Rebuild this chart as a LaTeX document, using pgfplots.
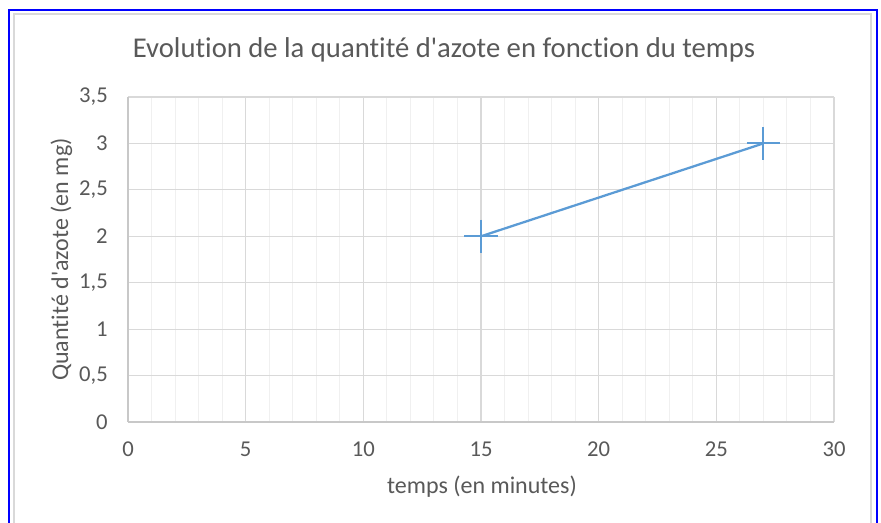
\documentclass[border=0pt]{standalone}
\usepackage{pgfplots}
\pgfplotsset{compat=1.18}
\usepackage{fontspec}
\setmainfont{Carlito}[Ligatures={NoCommon}]
\definecolor{txt}{HTML}{595959}
\definecolor{majorg}{HTML}{D9D9D9}
\definecolor{minorg}{HTML}{F0F0F0}
\definecolor{ser}{HTML}{5B9BD5}
\definecolor{axl}{HTML}{C8C8C8}
\begin{document}
\begin{tikzpicture}
\useasboundingbox (0,0) rectangle (660.75pt,392.25pt);
\fill[white] (0,0) rectangle (660.75pt,392.25pt);
\begin{scope}
\clip (0,0) rectangle (660.75pt,392.25pt);
\draw[blue, line width=1.5pt] (6.6pt,-10pt) rectangle (657.4pt,385.1pt);
\draw[majorg, line width=1.1pt] (10.5pt,-10pt) rectangle (653.25pt,381.75pt);
\end{scope}
\begin{axis}[
  at={(96pt,75.75pt)}, anchor=south west, scale only axis,
  width=529.5pt, height=243.75pt,
  xmin=0, xmax=30, ymin=0, ymax=3.5,
  xtick={0,5,10,15,20,25,30}, minor x tick num=4,
  ytick={0,0.5,1,1.5,2,2.5,3,3.5},
  grid=both,
  major grid style={majorg, line width=0.8pt},
  minor grid style={minorg, line width=0.8pt},
  axis x line*=bottom, axis y line*=left,
  axis line style={-, axl, line width=1pt},
  major tick length=0pt, minor tick length=0pt,
  tick style={draw=none},
  tick label style={font=\fontsize{17}{20}\selectfont, text=txt, inner sep=0pt},
  xticklabel style={anchor=north, yshift=-15pt},
  yticklabel style={anchor=east, xshift=-15pt},
  /pgf/number format/use comma,
  /pgf/number format/assume math mode=true,
]
\addplot[ser, line width=1.7pt, mark=+, mark size=12.4pt, mark options={ser, solid, line width=1.4pt}]
  coordinates {(15,2) (27,3)};
\end{axis}
\node[text=txt, font=\fontsize{21.5}{25}\selectfont] at (333pt,354.75pt) {Evolution de la quantité d\textquotesingle azote en fonction du temps};
\node[text=txt, font=\fontsize{18}{21}\selectfont] at (361.5pt,27pt) {temps (en minutes)};
\node[text=txt, font=\fontsize{18}{21}\selectfont, rotate=90] at (46pt,197.6pt) {Quantité d\textquotesingle azote (en mg)};
\end{tikzpicture}
\end{document}
